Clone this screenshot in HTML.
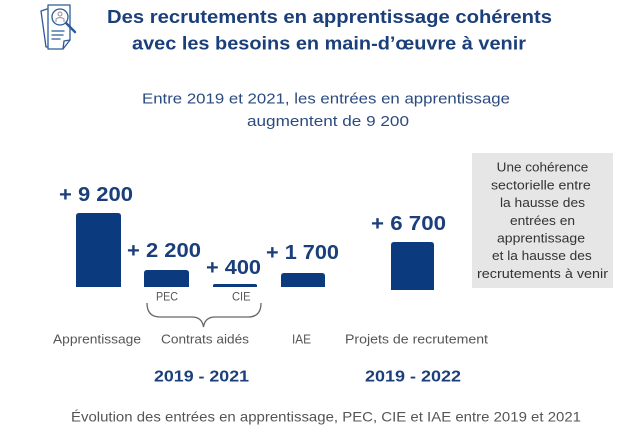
<!DOCTYPE html>
<html>
<head>
<meta charset="utf-8">
<style>
html,body{margin:0;padding:0;background:#fff;}
svg{display:block;}
text{font-family:"Liberation Sans",Arial,sans-serif;}
</style>
</head>
<body>
<svg width="640" height="427" viewBox="0 0 640 427" xmlns="http://www.w3.org/2000/svg">
<rect width="640" height="427" fill="#fff"/>

<!-- icon -->
<g fill="none" stroke="#2c5a98" stroke-width="1.3" stroke-linejoin="round" stroke-linecap="round">
  <path d="M47,9 L41,11 L46,47 L55,46"/>
  <path d="M48,5 L70,5 L70,40 L63,49 L48,49 Z" fill="#fff"/>
  <path d="M63,49 L64,41 L70,40"/>
  <line x1="52" y1="31" x2="64" y2="31"/>
  <line x1="52" y1="35" x2="63" y2="35"/>
  <line x1="52" y1="39" x2="60" y2="39"/>
  <circle cx="60" cy="17" r="8" fill="#fff"/>
  <line x1="66" y1="23" x2="75" y2="32" stroke-width="2.4"/>
</g>
<g fill="none" stroke="#9a8f92" stroke-width="1">
  <circle cx="60" cy="14" r="2"/>
  <path d="M56,22 L56,19 Q60,16 64,19 L64,22"/>
</g>

<!-- title -->
<g fill="#1b3f7a" font-weight="bold" font-size="18">
  <text x="107" y="23" textLength="445" lengthAdjust="spacingAndGlyphs">Des recrutements en apprentissage cohérents</text>
  <text x="132" y="49.5" textLength="394" lengthAdjust="spacingAndGlyphs">avec les besoins en main-d’œuvre à venir</text>
</g>

<!-- subtitle -->
<g fill="#2b4b80" font-size="15">
  <text x="142" y="103.3" textLength="368" lengthAdjust="spacingAndGlyphs">Entre 2019 et 2021, les entrées en apprentissage</text>
  <text x="247" y="126" textLength="162" lengthAdjust="spacingAndGlyphs">augmentent de 9 200</text>
</g>

<!-- bars -->
<g fill="#0c3a7f">
  <path d="M76,287 L76,216 Q76,213 79,213 L118,213 Q121,213 121,216 L121,287 Z"/>
  <path d="M144,287 L144,273 Q144,270 147,270 L186,270 Q189,270 189,273 L189,287 Z"/>
  <path d="M213,287 L213,285.5 Q213,284 215,284 L255,284 Q257,284 257,285.5 L257,287 Z"/>
  <path d="M281,287 L281,276 Q281,273 284,273 L322,273 Q325,273 325,276 L325,287 Z"/>
  <path d="M391,290 L391,245 Q391,242 394,242 L431,242 Q434,242 434,245 L434,290 Z"/>
</g>

<!-- value labels -->
<g fill="#1b3f7a" font-weight="bold" font-size="20">
  <text x="59" y="201" textLength="74" lengthAdjust="spacingAndGlyphs">+ 9 200</text>
  <text x="127" y="257" textLength="74" lengthAdjust="spacingAndGlyphs">+ 2 200</text>
  <text x="206" y="274" textLength="55" lengthAdjust="spacingAndGlyphs">+ 400</text>
  <text x="266" y="259" textLength="73" lengthAdjust="spacingAndGlyphs">+ 1 700</text>
  <text x="371" y="230" textLength="75" lengthAdjust="spacingAndGlyphs">+ 6 700</text>
</g>

<!-- sub labels -->
<g fill="#555" font-size="12">
  <text x="156" y="300.7" textLength="22" lengthAdjust="spacingAndGlyphs">PEC</text>
  <text x="232" y="300.7" textLength="18.5" lengthAdjust="spacingAndGlyphs">CIE</text>
</g>

<!-- brace -->
<path d="M147,303 Q147,317 160,317 L192,317 Q202,317 203.5,327 Q205,317 215,317 L248,317 Q261,317 261,303" fill="none" stroke="#666" stroke-width="1.3"/>

<!-- category labels -->
<g fill="#555" font-size="13">
  <text x="53" y="343.3" textLength="88" lengthAdjust="spacingAndGlyphs">Apprentissage</text>
  <text x="161" y="343.3" textLength="88" lengthAdjust="spacingAndGlyphs">Contrats aidés</text>
  <text x="292" y="343.3" textLength="19" lengthAdjust="spacingAndGlyphs">IAE</text>
  <text x="345" y="343.3" textLength="143" lengthAdjust="spacingAndGlyphs">Projets de recrutement</text>
</g>

<!-- period labels -->
<g fill="#1b3f7a" font-weight="bold" font-size="16">
  <text x="154" y="381.7" textLength="95" lengthAdjust="spacingAndGlyphs">2019 - 2021</text>
  <text x="365" y="381.7" textLength="96" lengthAdjust="spacingAndGlyphs">2019 - 2022</text>
</g>

<!-- gray box -->
<rect x="472" y="153" width="141" height="135" fill="#e6e6e6"/>
<g fill="#333" font-size="13">
  <text x="496.7" y="171.7" textLength="91.6" lengthAdjust="spacingAndGlyphs">Une cohérence</text>
  <text x="491" y="189.4" textLength="99.7" lengthAdjust="spacingAndGlyphs">sectorielle entre</text>
  <text x="500" y="207.1" textLength="85" lengthAdjust="spacingAndGlyphs">la hausse des</text>
  <text x="510" y="224.8" textLength="65" lengthAdjust="spacingAndGlyphs">entrées en</text>
  <text x="497" y="242.5" textLength="88" lengthAdjust="spacingAndGlyphs">apprentissage</text>
  <text x="492" y="260.2" textLength="99.7" lengthAdjust="spacingAndGlyphs">et la hausse des</text>
  <text x="477" y="277.9" textLength="131" lengthAdjust="spacingAndGlyphs">recrutements à venir</text>
</g>

<!-- caption -->
<text x="71" y="421.7" fill="#555" font-size="14" textLength="510" lengthAdjust="spacingAndGlyphs">Évolution des entrées en apprentissage, PEC, CIE et IAE entre 2019 et 2021</text>
</svg>
</body>
</html>
